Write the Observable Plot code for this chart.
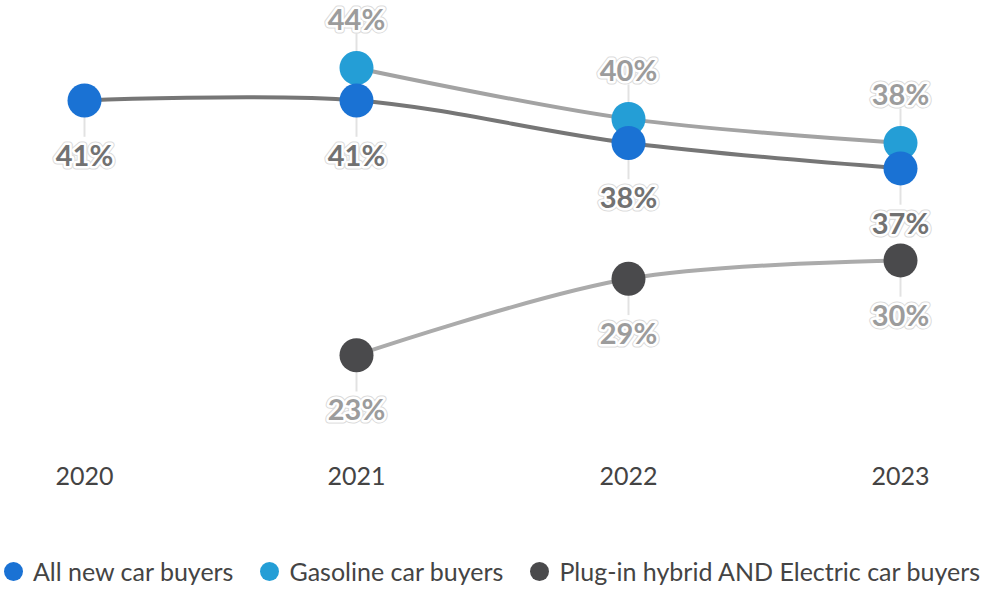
<!DOCTYPE html>
<html>
<head>
<meta charset="utf-8">
<script src="https://cdn.jsdelivr.net/npm/d3@7"></script>
<script src="https://cdn.jsdelivr.net/npm/@observablehq/plot@0.6"></script>
<style>
  body { margin: 0; background: #fff; font-family: Lato, sans-serif; }
  #legend { display: flex; justify-content: center; align-items: center; gap: 27px; margin-top: 36px; font-size: 25px; color: #444; white-space: nowrap; }
  #legend .item { display: flex; align-items: center; gap: 10px; }
  #legend .sw { width: 19px; height: 19px; border-radius: 50%; display: inline-block; }
</style>
</head>
<body>
<div id="chart"></div>
<div id="legend"></div>
<script>
const years = ["2020", "2021", "2022", "2023"];
const seriesNames = ["All new car buyers", "Gasoline car buyers", "Plug-in hybrid AND Electric car buyers"];
const seriesColors = ["#1a72d4", "#249ed6", "#4a4a4c"];
const lineColors = ["#767676", "#a3a3a3", "#ababab"];
const labelColors = ["#727272", "#9c9c9c", "#9c9c9c"];
const allBuyers = [41.4, 41.4, 38.4, 36.6];
const gasBuyers = [null, 43.7, 40.1, 38.4];
const evBuyers = [null, 23.4, 28.8, 30.1];
const allLabels = [41, 41, 38, 37];
const gasLabels = [null, 44, 40, 38];
const evLabels = [null, 23, 29, 30];
const labelSide = [1, -1, 1]; // 1 = below, -1 = above

const seriesValues = [allBuyers, gasBuyers, evBuyers];
const seriesLabels = [allLabels, gasLabels, evLabels];
const rows = [];
seriesValues.forEach((vals, s) => {
  vals.forEach((v, i) => {
    if (v != null) rows.push({series: s, year: years[i], value: v, label: seriesLabels[s][i] + "%"});
  });
});
const bySeries = s => rows.filter(d => d.series === s);

const marks = [];
[2, 1, 0].forEach(s => {
  marks.push(Plot.line(bySeries(s), {x: "year", y: "value", stroke: lineColors[s], strokeWidth: 4, curve: "catmull-rom"}));
});
[2, 1, 0].forEach(s => {
  const len = labelSide[s] > 0 ? -2.6 : 2.4;
  marks.push(Plot.ruleX(bySeries(s), {x: "year", y1: "value", y2: d => d.value + len, stroke: "#e2e2e2", strokeWidth: 2}));
});
[2, 1, 0].forEach(s => {
  marks.push(Plot.dot(bySeries(s), {x: "year", y: "value", r: 17, fill: seriesColors[s], stroke: "none"}));
});
[2, 1, 0].forEach(s => {
  const dy = labelSide[s] > 0 ? 56 : -47;
  const common = {x: "year", y: "value", text: "label", dy, fontSize: 29, fontWeight: "bold", fontFamily: "Lato, sans-serif", fill: labelColors[s], lineAnchor: "middle"};
  marks.push(Plot.text(bySeries(s), {...common, stroke: "#dadada", strokeWidth: 7, strokeLinejoin: "round"}));
  marks.push(Plot.text(bySeries(s), {...common, stroke: "#ffffff", strokeWidth: 5, strokeLinejoin: "round"}));
});
marks.push(Plot.axisX({tickSize: 0, tickPadding: 7, fontSize: 25, fill: "#444", fontFamily: "Lato, sans-serif", label: null}));

const chart = Plot.plot({
  width: 984,
  height: 520,
  marginLeft: 83,
  marginRight: 83,
  marginTop: 0,
  marginBottom: 60,
  style: {fontFamily: "Lato, sans-serif", background: "#fff", overflow: "visible"},
  x: {type: "point", domain: years, padding: 0},
  y: {domain: [0, 50], range: [685.8, -21.7], axis: null},
  marks
});
document.getElementById("chart").appendChild(chart);

const legend = document.getElementById("legend");
seriesNames.forEach((name, s) => {
  const item = document.createElement("div");
  item.className = "item";
  item.innerHTML = `<span class="sw" style="background:${seriesColors[s]}"></span><span>${name}</span>`;
  legend.appendChild(item);
});
</script>
</body>
</html>
